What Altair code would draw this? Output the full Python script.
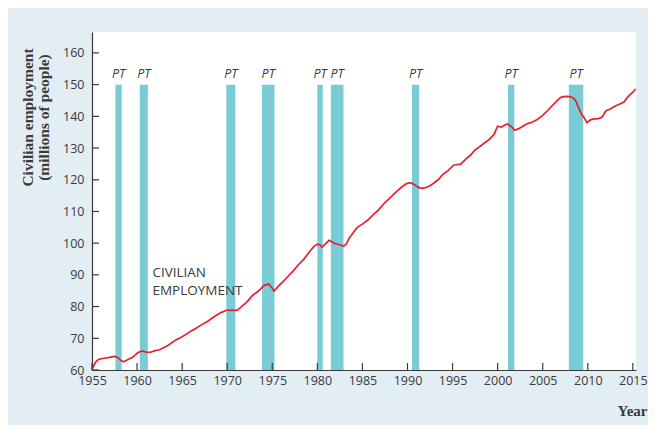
import altair as alt
import pandas as pd

# Civilian employment (millions)
years = [1955.0, 1955.4, 1955.7, 1956.3, 1956.8, 1957.5, 1957.9, 1958.2, 1958.5, 1959.0,
         1959.5, 1960.1, 1960.6, 1961.0, 1961.5, 1962.0, 1962.5, 1963.0, 1963.5, 1964.3,
         1965.0, 1965.5, 1966.0, 1966.5, 1967.0, 1967.8, 1968.5, 1969.3, 1970.0, 1970.5,
         1971.1, 1971.6, 1972.2, 1972.8, 1973.5, 1974.1, 1974.6, 1975.0, 1975.2, 1975.6,
         1976.2, 1976.7, 1977.3, 1977.9, 1978.5, 1979.1, 1979.6, 1980.0, 1980.3, 1980.5,
         1980.9, 1981.3, 1981.7, 1982.0, 1982.5, 1982.9, 1983.2, 1983.5, 1984.0, 1984.4,
         1985.0, 1985.6, 1986.2, 1986.8, 1987.3, 1987.8, 1988.4, 1988.9, 1989.4, 1989.9,
         1990.3, 1990.7, 1991.2, 1991.6, 1992.0, 1992.5, 1992.9, 1993.4, 1993.9, 1994.5,
         1995.1, 1995.5, 1995.9, 1996.5, 1997.0, 1997.5, 1998.0, 1998.5, 1999.1, 1999.6,
         2000.0, 2000.4, 2000.8, 2001.1, 2001.5, 2001.9, 2002.4, 2002.8, 2003.2, 2003.7,
         2004.4, 2005.0, 2005.6, 2006.2, 2006.7, 2007.0, 2007.5, 2008.0, 2008.4, 2008.7,
         2009.0, 2009.3, 2009.6, 2009.9, 2010.3, 2010.7, 2011.2, 2011.6, 2012.0, 2012.5,
         2013.0, 2013.5, 2014.0, 2014.5, 2015.0, 2015.3]
employment = [60.2, 62.5, 63.3, 63.7, 63.9, 64.3, 63.9, 63.0, 62.6, 63.3,
              64.0, 65.5, 66.0, 65.6, 65.6, 66.1, 66.4, 67.1, 67.9, 69.5,
              70.5, 71.4, 72.3, 73.1, 74.0, 75.3, 76.7, 78.1, 78.9, 78.8,
              78.8, 80.0, 81.5, 83.5, 85.0, 86.7, 87.1, 85.8, 84.9, 86.2,
              87.9, 89.4, 91.2, 93.2, 94.9, 97.2, 98.9, 99.7, 99.4, 98.7,
              99.8, 100.9, 100.3, 99.8, 99.5, 99.0, 99.7, 101.4, 103.4, 104.9,
              106.0, 107.3, 109.0, 110.5, 112.2, 113.6, 115.2, 116.6, 117.8, 118.8,
              119.1, 118.6, 117.6, 117.3, 117.5, 118.1, 118.9, 120.0, 121.6, 122.9,
              124.6, 124.8, 124.9, 126.6, 127.8, 129.4, 130.4, 131.5, 132.8, 134.3,
              136.9, 136.6, 137.3, 137.6, 136.8, 135.6, 136.2, 136.9, 137.6, 138.0,
              139.0, 140.3, 142.0, 143.8, 145.2, 146.0, 146.3, 146.2, 145.8, 144.7,
              142.6, 140.7, 139.6, 138.0, 138.9, 139.2, 139.3, 139.8, 141.7, 142.3,
              143.2, 143.8, 144.5, 146.3, 147.6, 148.6]

# Recession (PT) bands
pt_start = [1957.6, 1960.3, 1969.9, 1973.85, 1980.0, 1981.5, 1990.5, 2001.15, 2007.9]
pt_end = [1958.3, 1961.2, 1970.9, 1975.25, 1980.6, 1982.9, 1991.3, 2001.85, 2009.5]
pt_labels = ["PT"] * len(pt_start)
pt_top = 150
pt_label_level = 153.2

x_ticks = list(range(1955, 2016, 5))
y_ticks = list(range(60, 161, 10))

x_domain = [1955, 2015.35]
y_domain = [60, 166.6]

line_df = pd.DataFrame({"year": years, "emp": employment})
pt_df = pd.DataFrame({"start": pt_start, "end": pt_end, "label": pt_labels})
pt_df["mid"] = (pt_df["start"] + pt_df["end"]) / 2
pt_df["top"] = pt_top
pt_df["bottom"] = y_domain[0]
pt_df["lab_y"] = pt_label_level
xt_df = pd.DataFrame({"year": x_ticks})
yt_df = pd.DataFrame({"v": y_ticks})

W, H = 544, 338
AX = "#3a3a3a"
SANS = "Open Sans"
SERIF = "Liberation Serif"

xscale = alt.Scale(domain=x_domain, nice=False, zero=False)
yscale = alt.Scale(domain=y_domain, nice=False, zero=False)

xaxis = alt.Axis(values=x_ticks, format="d", ticks=False, grid=False,
                 labelOverlap=False, labelFlush=False, labelBound=False,
                 domainColor=AX, domainWidth=1.2, labelColor=AX, labelFont=SANS,
                 labelFontSize=12.5, labelPadding=4,
                 title="Year", titleFont=SERIF, titleFontSize=15, titleFontWeight="bold",
                 titleColor=AX, titleX=555, titleY=40, titleAlign="right",
                 titleBaseline="middle")
yaxis = alt.Axis(values=y_ticks, format="d", ticks=False, grid=False,
                 labelOverlap=False, labelFlush=False, labelBound=False,
                 domainColor=AX, domainWidth=1.2, labelColor=AX, labelFont=SANS,
                 labelFontSize=12.5, labelPadding=8,
                 title=["Civilian employment", "(millions of people)"],
                 titleFont=SERIF, titleFontSize=15.5, titleFontWeight="bold",
                 titleColor=AX, titleAngle=270, titleX=-72, titleY=85,
                 titleAlign="center", titleBaseline="top", titleLineHeight=16.5)


def X(field):
    return alt.X(field, type="quantitative", scale=xscale, axis=xaxis)


def Y(field):
    return alt.Y(field, type="quantitative", scale=yscale, axis=yaxis)


bars = alt.Chart(pt_df).mark_rect(color="#79ccd6").encode(
    x=X("start"), x2="end", y=Y("top"), y2="bottom")

pt_text = alt.Chart(pt_df).mark_text(font=SANS, fontSize=12.5, fontStyle="italic",
                                     color=AX, baseline="middle", align="center").encode(
    x=X("mid"), y=Y("lab_y"), text="label:N")

line = alt.Chart(line_df).mark_line(color="#e8202e", strokeWidth=1.7).encode(
    x=X("year"), y=Y("emp"))

label = alt.Chart(pd.DataFrame({"t": ["CIVILIAN", "EMPLOYMENT"], "y": [90.6, 84.8],
                                "x": [1961.7, 1961.7]})).mark_text(
    font=SANS, fontSize=13.5, color=AX, align="left", baseline="middle").encode(
    x=X("x"), y=Y("y"), text="t:N")

xt = alt.Chart(xt_df).mark_rule(color=AX, strokeWidth=1.2).encode(
    x=X("year"), y=alt.value(H), y2=alt.value(H - 7))
yt = alt.Chart(yt_df).mark_rule(color=AX, strokeWidth=1.2).encode(
    y=Y("v"), x=alt.value(0), x2=alt.value(7))

chart = alt.layer(bars, pt_text, line, label, xt, yt).properties(
    width=W, height=H,
    background="#e2edf4",
    autosize=alt.AutoSizeParams(type="none"),
    padding={"left": 84, "top": 24, "right": 12, "bottom": 55},
).configure_view(fill="white", stroke=None)

chart.save("out.html", embed_options={"renderer": "svg", "actions": False})
